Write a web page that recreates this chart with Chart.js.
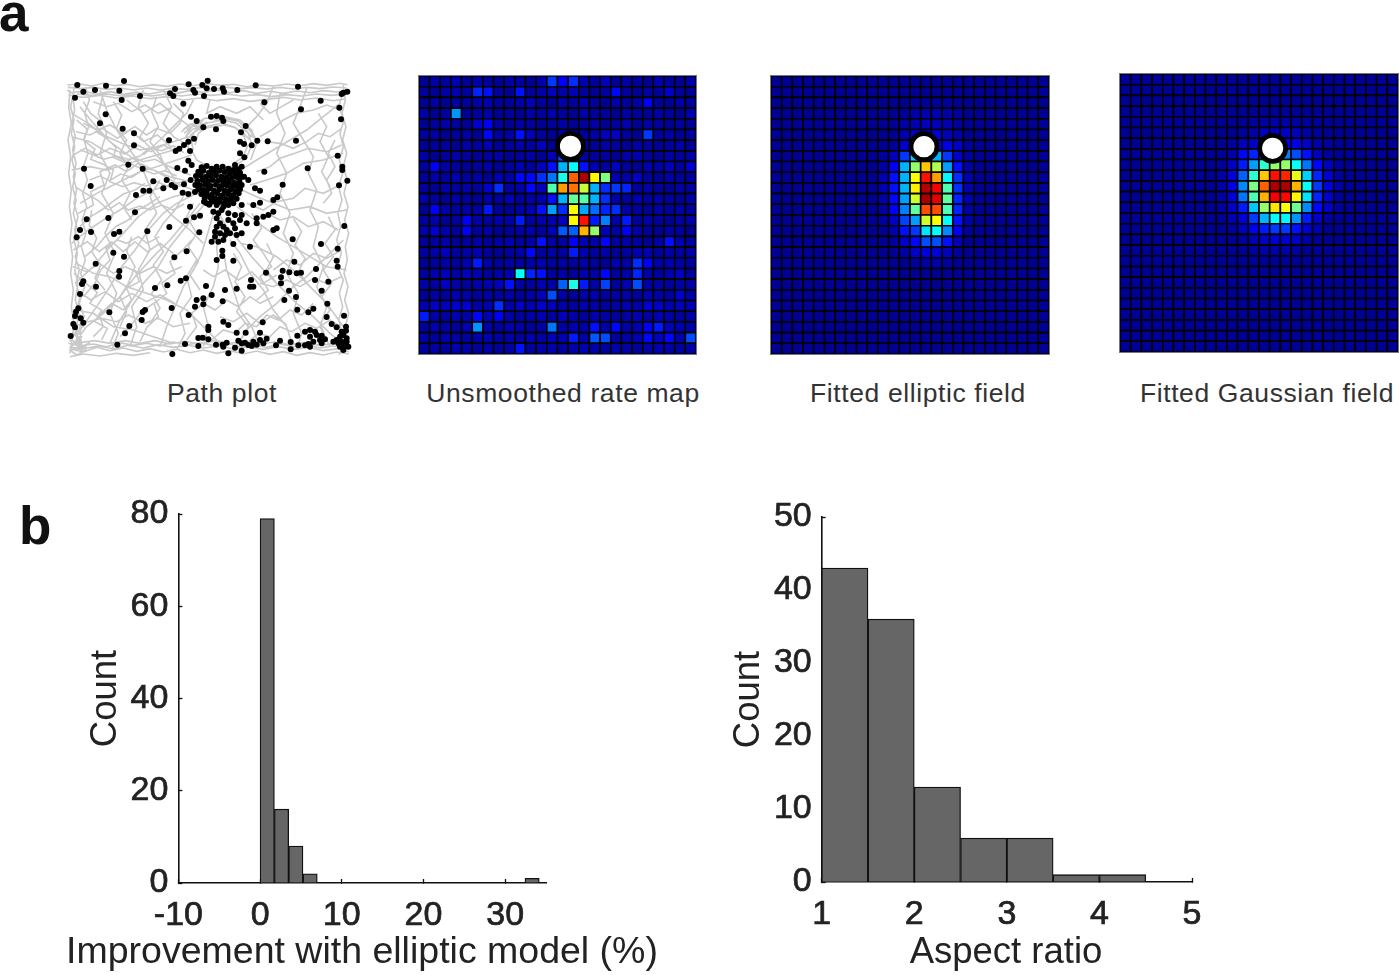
<!DOCTYPE html>
<html><head><meta charset="utf-8">
<script src="https://cdn.jsdelivr.net/npm/chart.js@4/dist/chart.umd.min.js"></script>
<style>
html,body{margin:0;padding:0;background:#fff;overflow:hidden}
body{width:1399px;height:975px;position:relative;font-family:"Liberation Sans",Arial,sans-serif}
canvas{position:absolute}
.cap{position:absolute;top:378px;font-size:26.5px;line-height:30px;color:#333;white-space:nowrap;transform:translateX(-50%);letter-spacing:.6px}
.panel{position:absolute;font-weight:bold;font-size:53px;line-height:60px;color:#111}
.map{box-shadow:0 0 0 1px #777}
</style></head><body>
<div class="panel" style="left:-1px;top:-17px">a</div>
<div class="panel" style="left:19px;top:496px">b</div>
<div class="cap" style="left:222px">Path plot</div>
<div class="cap" style="left:563px">Unsmoothed rate map</div>
<div class="cap" style="left:918px">Fitted elliptic field</div>
<div class="cap" style="left:1267px">Fitted Gaussian field</div>
<canvas id="path" width="295" height="295" style="left:60px;top:70px"></canvas>
<canvas id="rate" class="map" width="277" height="278" style="left:419px;top:76px"></canvas>
<canvas id="ellipse" class="map" width="278" height="278" style="left:771px;top:76px"></canvas>
<canvas id="gauss" class="map" width="278" height="278" style="left:1120px;top:74px"></canvas>
<canvas id="histA" width="604" height="485" style="left:60px;top:490px"></canvas>
<canvas id="histB" width="580" height="485" style="left:716px;top:490px"></canvas>
<script>
// ---------- panel b: histograms ----------
const improvementBins = [0.875, 2.625, 4.375, 6.125, 33.3];
const improvementCounts = [79, 16, 8, 2, 1];
const aspectBins = [1.25, 1.75, 2.25, 2.75, 3.25, 3.75, 4.25];
const aspectCounts = [43, 36, 13, 6, 6, 1, 1];

// ---------- panel a: rate maps (percent of the colour scale) ----------
const rateMap = [
[2,4,3,5,2,4,3,2,4,3,2,5,18,12,17,5,3,6,2,4,3,2,5,3,2,4],
[3,2,4,5,3,16,14,3,2,14,3,4,6,4,5,3,2,3,13,3,2,4,3,8,3,2],
[2,4,2,3,3,4,5,3,3,4,6,3,2,4,3,5,3,2,4,3,4,12,3,2,4,3],
[4,2,3,27,2,3,4,2,3,2,4,3,5,3,2,4,3,3,2,4,3,2,4,3,2,5],
[2,3,4,3,2,8,12,3,2,4,3,2,3,4,2,3,4,2,3,5,2,4,3,2,3,2],
[3,4,2,3,4,2,13,3,4,14,6,3,2,5,4,3,4,6,7,3,2,18,3,4,2,3],
[2,3,3,2,4,3,5,2,3,4,3,6,2,6,5,3,2,4,3,2,4,3,2,3,4,2],
[4,2,3,4,3,2,3,4,2,3,4,2,5,20,12,4,3,3,2,4,5,3,2,4,3,4],
[3,12,4,3,2,3,4,2,3,5,3,6,14,30,38,14,5,3,7,3,2,5,4,6,3,8],
[2,4,3,5,3,4,2,5,4,13,13,17,24,40,78,96,63,50,5,4,7,3,2,4,3,3],
[3,2,4,3,4,3,8,17,3,4,13,6,45,72,76,57,30,17,18,16,3,4,3,2,4,3],
[4,3,2,4,3,2,4,3,6,3,4,5,14,30,47,46,30,17,4,3,5,3,4,3,2,4],
[2,12,4,3,4,3,15,3,2,4,5,14,28,17,62,29,23,16,17,4,3,2,4,3,4,3],
[3,4,2,3,12,4,3,5,4,15,3,4,5,6,63,86,15,25,4,15,3,4,3,2,3,4],
[4,8,5,3,12,3,4,2,3,4,5,3,6,21,22,70,52,5,4,12,4,3,2,4,3,2],
[2,3,4,2,3,4,3,4,5,3,4,14,4,3,12,5,4,13,3,4,3,2,4,14,5,3],
[3,4,6,3,4,5,3,2,3,4,13,3,4,3,15,5,3,4,2,3,5,5,3,4,3,4],
[2,3,4,3,5,15,4,3,4,3,4,5,3,4,3,4,3,2,5,4,17,12,4,5,4,3],
[3,5,6,4,6,5,3,4,5,38,16,14,3,4,3,5,4,13,3,4,16,4,3,5,7,3],
[4,3,7,4,3,4,5,6,14,4,3,5,4,22,40,15,4,19,3,5,20,4,4,3,4,4],
[2,4,3,5,4,3,4,3,4,3,4,6,20,4,3,4,5,3,4,4,3,5,4,3,8,4],
[5,7,6,8,8,4,5,17,4,7,5,8,6,4,3,5,4,3,4,5,4,8,7,5,6,5],
[15,4,3,5,4,13,5,12,4,3,4,5,3,6,4,3,5,4,3,4,5,3,5,4,3,4],
[3,5,4,3,5,27,4,3,5,4,3,4,24,4,5,4,14,4,13,4,5,12,15,6,5,4],
[4,3,5,4,3,4,5,3,4,3,5,4,6,5,15,4,21,20,3,4,5,13,6,13,5,20],
[3,4,3,5,4,3,4,3,4,14,3,4,5,3,4,5,4,3,5,4,3,4,5,4,3,4]
];
const mapFloor = 2;
// [row, first column, values...]
const ellipticRows = [
[2,13,3,3,3,3],
[3,12,3,4,5,5,4,3],
[4,12,4,5,6,6,5,3],
[5,12,5,7,9,8,6,4],
[6,11,3,7,10,12,12,10,7,3],
[7,10,3,6,18,33,35,30,18,7,3],
[8,10,4,12,30,52,68,55,28,14,4],
[9,10,5,14,30,62,86,72,37,17,5],
[10,10,5,14,30,64,95,88,45,17,5],
[11,10,4,13,28,58,96,90,47,16,5],
[12,10,3,12,25,47,80,80,45,16,4],
[13,10,3,7,19,28,58,62,38,14,4],
[14,11,5,14,18,35,38,26,12,3],
[15,11,3,7,13,20,20,14,6],
[16,12,4,7,9,9,6,3],
[17,13,3,4,4,3]
];
const gaussianRows = [
[4,12,3,3,4,4,3,3],
[5,11,3,4,6,7,7,6,4,3],
[6,10,3,6,7,10,12,12,10,7,4,3],
[7,10,4,13,16,22,26,25,20,14,6,3],
[8,9,3,7,15,28,42,52,52,38,24,13,6,3],
[9,9,4,9,22,42,68,86,84,60,33,16,8,3],
[10,9,4,10,26,50,78,96,96,70,38,18,9,4],
[11,9,4,9,24,45,70,88,87,63,35,16,8,3],
[12,9,3,7,15,32,52,65,62,48,26,13,7,3],
[13,10,5,9,18,30,38,37,27,15,7,3],
[14,10,3,6,11,15,18,18,14,8,5],
[15,11,3,5,7,8,8,7,4],
[16,12,3,4,4,4,3]
];
// reward-post marker [column, row]
const rateMarker = [13.72, 6.08];
const ellipticMarker = [13.81, 6.11];
const gaussianMarker = [13.78, 6.45];

// ---------- panel a: path plot (arena position units) ----------
const pathLegs = [
[22,45,60,42,95,48,130,40,165,47,200,43,240,50,280,44,320,49,360,42,400,47,440,41,480,46,520,43,560,50,600,44,640,48,680,42,720,47,760,41,800,46,840,40,862,44],
[864,60,830,66,790,62,750,68,710,63,670,70,630,64,590,70,550,62,510,68,470,60,430,67,390,62,350,70,310,64,270,72,230,66,190,73,150,65,110,72,70,64,35,68,22,60],
[25,75,70,82,120,76,170,84,220,78,270,86,320,80,370,90,420,84,470,92,520,86,570,94,620,88,670,82,720,90,770,84,820,92,858,86],
[24,52,62,56,100,52,140,58,180,54,220,60,260,54,300,60,340,55,380,58,420,53,460,58,500,52,540,56,580,53,620,57,660,52,700,57,740,52,780,56,820,51,860,54],
[860,72,815,76,770,72,725,78,680,74,635,80,590,74,545,78,500,72,455,76,410,72,365,78,320,72,275,78,230,72,185,78,140,72,95,76,50,72],
[25,820,60,828,100,822,140,830,180,818,220,826,260,820,300,828,340,816,380,824,420,818,460,826,500,820,540,830,580,824,620,832,660,822,700,830,740,824,780,834,820,828,866,838],
[866,852,830,846,790,855,750,848,710,856,670,845,630,853,590,843,550,852,510,842,470,850,430,840,390,848,350,838,310,846,270,836,230,844,190,834,150,842,110,832,70,846,35,838],
[30,860,70,852,120,858,170,850,220,856,270,848],
[28,832,70,836,115,828,160,836,205,826,250,834,295,824,340,832,385,826,430,834,475,828,520,836,565,830,610,838,655,830,700,838,745,832,790,842,835,836,866,846],
[866,826,825,820,780,826,735,818,690,824,645,816,600,822,555,814,510,820,465,812,420,822,375,814,330,822,285,812,240,820,195,812,150,820,105,812,60,818,28,810],
[45,40,38,80,44,120,36,160,46,200,38,240,48,280,40,320,50,360,42,400,54,440,44,480,56,520,46,560,58,600,48,640,60,680,50,720,62,760,52,800,64,850],
[68,845,60,790,72,740,58,700,74,650,62,610,76,570,64,530,78,490,66,450,80,410,68,370,82,330,70,290,84,250,72,210,86,170,74,130,88,90,76,50],
[30,60,26,110,34,160,24,210,32,260,26,310,34,360,28,410,36,460,30,510,38,560,32,610,40,660,34,710,42,760,36,810,30,850],
[54,840,48,780,56,730,46,690,54,640,44,600,52,550,42,510,50,470,40,430,48,390,38,350,46,310,36,270,44,230,34,190,42,150,32,110,40,70],
[850,45,856,90,846,130,858,170,848,210,860,250,850,290,862,330,852,370,864,410,854,450,866,490,856,530,862,570,852,610,864,650,854,690,866,730,856,770,862,820],
[840,840,846,790,836,750,848,710,838,670,850,630,832,590,844,550,830,510,842,470,834,430,846,390,836,350,848,310,838,270,850,230,840,190,852,150,836,110,848,70],
[400,240,392,205,410,175,445,158,490,150,530,160,565,190,575,225,560,262,530,285,490,295,445,290,410,270,395,240],
[405,225,415,190,445,168,485,160,525,172,552,198,562,230,548,262,520,280],
[385,235,380,195,398,165,435,145,490,140,540,150,575,180,590,220,572,270],
[418,180,450,172,495,165,530,175,556,205],
[372,190,395,170,420,160,430,150],
[376,200,398,178,422,166,442,156],
[370,178,392,162,418,172,400,190,382,206],
[364,186,386,166,412,156,434,164,410,180,390,196],
[380,176,402,168,426,172,408,184],
[460,150,500,146,535,154,560,172],
[540,160,560,172,578,192,566,206,548,186],
[552,166,572,182,586,204,570,196,556,178],
[60,110,100,160,150,215,190,245,240,280,300,310,350,340,400,360,450,380],
[35,200,90,215,130,240,180,265,230,290,280,300,330,320,390,335],
[120,60,140,120,170,180,210,240,245,290,270,350,300,400,340,440,390,480,430,520],
[250,60,235,110,265,160,240,200,285,250,320,290,345,330],
[60,400,110,370,150,350,190,330,240,305,290,290,350,270,395,255],
[35,520,85,480,130,450,180,420,230,385,280,360,330,345,390,330],
[45,640,100,590,150,530,190,490,235,440,290,400,340,380,400,365],
[60,780,110,710,150,650,185,590,225,540,265,480,310,430,350,400,410,370],
[35,830,80,770,130,730,180,680,225,620,280,560,330,510,380,450,420,400],
[150,820,175,760,210,700,250,640,295,590,330,530,370,480,410,430,445,390],
[300,830,320,770,345,710,370,650,400,600,425,550,440,500,455,450,470,400],
[430,830,445,770,430,710,460,650,475,590,470,530,485,480],
[860,830,810,790,760,740,710,700,660,650,620,610,575,560,535,510,500,470,470,420],
[700,835,680,770,640,720,610,660,570,610,540,550,510,510],
[600,830,575,770,540,720,520,660,500,600,490,540],
[860,600,800,590,750,560,700,530,650,500,610,470,570,440,530,410],
[860,420,800,430,750,410,690,420,640,400,590,380,545,360],
[850,250,790,270,730,280,680,310,620,330,570,345],
[840,100,790,140,740,180,690,210,640,240,590,270,550,295],
[640,50,620,100,590,140,560,170],
[740,55,720,110,700,160,730,210,760,260,745,310,770,360,750,420,775,470,760,530,790,590,770,650,800,710,780,770,810,830],
[660,70,650,130,675,190,650,250,680,310,660,370,690,430,670,490,700,550,680,610,715,670,700,730,725,790,710,840],
[130,70,115,130,140,190,120,250,150,310,125,370,160,430,135,490,165,550,140,610,170,670,150,730,175,790,155,840],
[310,60,335,110,310,160,340,200,375,220],
[210,830,230,770,215,710,250,660,235,600,270,540,255,480,290,430,270,380,300,330],
[350,840,375,790,360,730,395,680,380,620,410,570],
[35,300,90,290,140,300,190,285,240,270,290,255,340,240,385,225],
[35,130,85,160,130,195,185,220,240,240,290,230,340,215,385,200],
[520,840,560,780,600,740,650,700,700,650,740,620,800,560,850,510],
[540,520,590,530,650,560,700,600,750,650,800,700,850,770],
[50,580,100,610,150,620,200,650,260,670,320,690,380,720,430,770,480,820],
[45,720,100,730,160,770,220,780,280,800,340,820],
[450,90,440,130,480,110,530,130,570,110,610,150],
[200,90,250,130,300,100,350,140,390,170],
[400,90,380,130,340,170,300,210,250,255],
[40,790,60,810,50,840,75,830,40,820,65,800,50,780,30,815],
[830,800,850,840,860,810,840,850,870,830],
[70,95,92,130,118,150,108,185,140,205,168,232,160,262,195,278,222,262,250,275,285,268,318,285,352,300,392,315],
[50,150,82,178,70,210,105,238,92,268,128,282,160,300,150,335,188,350,222,338,258,348,290,335,330,352,372,345],
[60,240,95,252,130,268,168,258,205,268,240,258,270,232,305,242,340,228,372,248],
[88,330,120,318,148,332,182,312,215,322,248,300,282,312,315,302,350,318],
[45,350,80,372,115,392,145,420,178,398,205,420,240,408,270,420,305,405,340,420,372,402],
[60,470,92,440,125,420,158,395,190,372,225,360,255,340],
[75,560,110,530,135,500,170,468,205,450,232,420,262,405,300,380],
[42,610,78,640,112,668,90,700,125,720,105,755,142,775,125,810],
[70,680,105,640,122,600,150,570,138,535,172,510,200,520,235,500,262,520,298,500],
[100,800,130,770,118,735,155,700,190,720,215,690,200,655,238,635,225,600],
[240,815,262,770,295,740,282,700,320,670,305,640,345,610,330,575,368,540,395,510],
[280,700,240,730,210,770,180,800],
[380,810,410,770,395,730,430,700,465,720,500,690,535,710,570,680,600,700,640,680],
[455,810,490,780,525,790,555,760,590,770,620,735,655,750,690,720,725,735,760,700],
[560,820,595,790,630,800,660,770,695,785,735,760,770,775,810,750,840,770],
[640,600,680,570,720,585,760,550,800,565,845,540],
[600,640,640,650,680,630,720,650,760,625,800,640,845,620],
[590,690,625,660,600,620,635,590,610,550,580,510,605,475,575,430],
[800,810,780,760,810,720,785,680,815,640,790,600,820,560,795,520,825,480,805,440],
[620,430,660,450,700,440,745,470,790,455,835,480],
[560,400,610,420,650,395,700,385,735,355,790,370,840,345],
[590,305,630,290,660,265,705,250,745,235,800,245,845,225],
[600,200,635,180,670,150,710,130,760,120,800,105,845,120],
[600,100,630,130,665,110,700,90],
[620,215,660,220,700,235,740,215,775,190,810,200,845,175],
[775,130,800,170,780,215,805,260,785,305,810,350],
[340,100,370,130,360,160,330,190,290,175,260,195,225,170,190,190,150,165,110,180,70,160],
[100,95,140,110,175,100,215,125,255,105,295,130,330,115],
[160,95,185,135,170,175,200,210,180,250,205,290,185,330,210,370,190,410,215,450],
[290,80,275,125,295,170,270,215,300,255,320,300],
[370,380,345,420,310,460,285,500,310,545,280,585,305,630,275,670,300,715,270,760],
[400,400,380,440,410,490,385,530,415,575,390,615,420,660],
[520,550,545,590,525,635,555,680,530,725,565,770,540,815],
[620,520,640,560,620,600,650,640],
[30,800,55,790,45,760,70,770,60,735,38,745,50,710],
[32,825,58,815,78,840,50,855,30,840,60,832,90,818],
[40,255,75,235,112,255,150,235,195,252,232,225,272,245,312,225,352,248],
[48,185,90,195,128,175,172,205,210,180,250,215,292,195,335,232],
[55,430,100,405,92,365,132,345,120,305,165,285,200,305,235,280,262,305],
[40,540,82,515,118,545,155,515,190,545,225,515,262,545,300,520,340,550],
[38,590,80,605,118,580,160,610,195,590,240,610,280,590,320,610,365,590],
[50,660,92,690,135,665,175,695,215,670,260,695,300,675,345,700],
[42,745,85,755,125,745,170,755,205,735,255,760,295,745,340,770,390,760],
[95,420,88,465,110,505,95,545,122,585,105,625,135,660],
[215,500,200,545,225,590,205,640,180,680,200,725,180,770],
[430,600,460,620,495,600,535,630,575,605,610,640,650,615],
[480,740,520,755,560,730,600,760,640,735,680,765],
[700,445,725,485,705,525,735,565,715,605,745,645],
[790,400,815,370,800,330,825,290,805,250,825,210]
];
const spikePoints = [
52,45,70,65,45,83,105,60,138,47,178,62,192,33,185,90,240,78,137,133,120,160,188,176,222,190,222,226,345,57,330,70,340,78,386,43,400,60,405,68,427,45,443,32,440,55,462,57,488,55,492,65,432,78,532,60,587,46,714,50,850,68,862,65,845,72,613,97,782,92,723,118,370,101,838,113,843,148,393,140,410,153,453,140,470,138,486,143,490,153,430,172,468,178,557,168,543,187,327,211,402,206,385,215,372,225,358,236,347,243,390,243,540,215,552,222,575,226,592,212,623,214,708,212,540,250,553,262,833,257,847,290,847,300,743,295,72,296,205,284,248,296,352,294,613,305,385,272,395,285,375,302,280,334,320,330,335,345,345,352,372,343,392,330,92,348,250,362,268,362,310,355,228,375,368,368,385,372,837,346,862,332,668,344,225,427,145,444,80,448,60,480,93,486,50,502,162,492,178,485,262,484,328,471,390,410,378,452,402,442,420,437,418,487,853,468,698,508,783,522,833,536,160,548,192,560,343,562,380,544,570,530,487,542,487,558,470,570,520,572,703,575,830,572,833,590,107,581,178,603,177,620,618,608,668,602,663,622,688,607,710,610,723,608,768,597,765,630,805,635,378,625,362,632,285,654,322,646,70,634,66,642,60,672,108,650,438,648,573,630,570,650,580,650,663,640,495,660,530,656,687,662,785,662,455,675,410,690,430,685,430,703,405,710,488,694,708,681,673,690,802,701,335,714,255,720,248,726,148,727,712,719,760,716,745,727,386,735,245,750,55,715,48,725,45,738,62,745,70,758,40,762,45,772,32,798,208,768,195,790,490,755,505,765,445,770,445,780,608,757,800,741,852,737,815,762,830,772,858,770,858,782,
172,824,375,822,415,804,428,803,445,808,415,828,468,824,488,824,500,818,490,830,525,833,505,850,337,852,530,788,557,788,535,812,545,820,555,818,565,825,580,815,590,824,600,810,620,806,600,788,575,828,610,820,545,842,660,812,648,826,692,816,712,797,692,838,715,826,735,826,745,822,735,785,750,780,765,785,750,800,770,795,785,797,795,808,780,810,760,815,750,830,785,820,820,815,830,810,840,800,850,795,860,805,845,815,855,825,840,830,850,840,865,830,835,820,860,815,845,785,
440,400,455,395,470,405,490,410,505,405,520,400,545,405,580,405,600,398,640,390,652,382,600,362,585,355,565,330,552,320,545,290,525,285,460,425,475,430,485,420,505,430,525,435,545,435,560,460,590,460,590,445,610,440,625,435,640,425,640,480,650,475,470,445,480,460,470,470,490,470,505,450,520,460,525,475,540,450,545,490,530,495,510,490,495,495,480,490,465,500,455,515,475,515,490,510,520,522,500,480,465,485,
425,292,440,288,455,296,470,290,488,290,505,296,520,300,535,298,415,305,430,302,447,308,462,304,478,302,494,306,510,310,526,312,540,308,408,318,422,316,438,320,452,318,468,316,484,320,500,322,516,324,532,322,546,320,412,332,428,330,444,334,458,330,474,332,490,334,506,336,522,338,538,334,406,345,420,346,436,344,452,348,468,344,484,348,500,346,516,350,530,348,545,345,415,358,430,360,446,356,462,362,478,358,494,362,510,360,526,364,540,358,405,366,424,372,440,370,456,374,472,370,488,376,504,372,520,376,536,370,434,384,450,382,466,386,482,384,498,388,514,384,530,386,432,395,448,404,462,392,478,396,494,398,512,392
];

// ---------- helpers ----------
function jet(pct){
  const v = pct/100;
  const band = c => Math.round(255*Math.max(0,Math.min(1,1.5-Math.abs(4*v-c))));
  return `rgb(${band(3)},${band(2)},${band(1)})`;
}
function gridFromRows(rows,floor){
  const m = Array.from({length:26},()=>Array(26).fill(floor));
  rows.forEach(r=>{const [row,col,...vals]=r; vals.forEach((v,i)=>{m[row][col+i]=v;});});
  return m;
}
function heatChart(id,matrix,marker){
  const pts=[],cols=[];
  matrix.forEach((row,r)=>row.forEach((v,c)=>{pts.push({x:c,y:r});cols.push(jet(v));}));
  new Chart(document.getElementById(id),{
    type:'scatter',
    data:{datasets:[
      {data:[{x:marker[0],y:marker[1]}],order:0,pointRadius:13,pointBorderWidth:4.8,pointBackgroundColor:'#fff',pointBorderColor:'#000'},
      {data:pts,order:1,pointStyle:'rect',pointRadius:7.55,pointBorderWidth:1.6,pointBackgroundColor:cols,pointBorderColor:'#000'}
    ]},
    options:{responsive:false,animation:false,devicePixelRatio:1,events:[],
      layout:{padding:0,autoPadding:false},
      plugins:{legend:{display:false},tooltip:{enabled:false},title:{display:false}},
      scales:{x:{display:false,min:-0.5,max:25.5},y:{display:false,min:-0.5,max:25.5,reverse:true}}}
  });
}
heatChart('rate',rateMap,rateMarker);
heatChart('ellipse',gridFromRows(ellipticRows,mapFloor),ellipticMarker);
heatChart('gauss',gridFromRows(gaussianRows,mapFloor),gaussianMarker);

// path plot
const pathData=[];
pathLegs.forEach(leg=>{for(let i=0;i<leg.length-1;i+=2)pathData.push({x:leg[i],y:leg[i+1]});pathData.push({x:null,y:null});});
const spikeData=[];
for(let i=0;i<spikePoints.length;i+=2)spikeData.push({x:spikePoints[i],y:spikePoints[i+1]});
new Chart(document.getElementById('path'),{
  type:'scatter',
  data:{datasets:[
    {data:spikeData,order:0,pointRadius:3,pointBackgroundColor:'#000',pointBorderWidth:0},
    {data:pathData,order:1,showLine:true,spanGaps:false,pointRadius:0,borderColor:'#c9c9c9',borderWidth:1.6,tension:0}
  ]},
  options:{responsive:false,animation:false,devicePixelRatio:1,events:[],
    layout:{padding:0,autoPadding:false},
    plugins:{legend:{display:false},tooltip:{enabled:false}},
    scales:{x:{display:false,min:0,max:885},y:{display:false,min:0,max:885,reverse:true}}}
});

// histograms
function histChart(id,bins,counts,cfg){
  const family='"Liberation Sans",Arial,sans-serif';
  const font={family,size:34};
  new Chart(document.getElementById(id),{
    type:'bar',
    data:{datasets:[{data:bins.map((b,i)=>({x:b,y:counts[i]})),backgroundColor:'#666',borderColor:'#111',borderWidth:1.3,barPercentage:1,categoryPercentage:1}]},
    options:{responsive:false,animation:false,devicePixelRatio:1,events:[],
      layout:{padding:cfg.padding,autoPadding:false},
      plugins:{legend:{display:false},tooltip:{enabled:false},
        title:{display:true,position:'bottom',text:cfg.xTitle,font:{family,size:cfg.titleSize,weight:'normal'},color:'#222',padding:0}},
      scales:{
        x:{type:'linear',offset:false,min:cfg.xMin,max:cfg.xMax,afterFit:s=>{s.height=cfg.xHeight;s.paddingLeft=0;s.paddingRight=0;},
          grid:{drawOnChartArea:false,offset:false,tickLength:-4,tickColor:'#111',tickWidth:1.3},
          border:{color:'#111',width:1.6},
          ticks:{stepSize:cfg.xStep,includeBounds:false,autoSkip:false,maxRotation:0,font,color:'#222',padding:16,textStrokeColor:'#222',textStrokeWidth:0.7},
          title:{display:false}},
        y:{min:0,max:cfg.yMax,afterFit:s=>{s.width=cfg.yWidth;s.paddingTop=0;s.paddingBottom=0;},
          grid:{drawOnChartArea:false,tickLength:-4,tickColor:'#111',tickWidth:1.3},
          border:{color:'#111',width:1.6},
          ticks:{stepSize:cfg.yStep,font,color:'#222',padding:14,textStrokeColor:'#222',textStrokeWidth:0.7},
          title:{display:true,text:'Count',font:{family,size:36.5},color:'#222',padding:{top:cfg.countGap,bottom:0}}},
        spacer:{position:'right',afterFit:s=>{s.width=cfg.spacer;s.paddingTop=0;s.paddingBottom=0;},grid:{display:false},border:{display:false},ticks:{display:false}}
      }}
  });
}
histChart('histA',improvementBins,improvementCounts,{xMin:-10,xMax:35,xStep:10,yMax:80,yStep:20,countGap:24,
  xTitle:'Improvement with elliptic model (%)',titleSize:37.5,xHeight:47,yWidth:118.4,spacer:118,padding:{left:0,right:0,top:24,bottom:0}});
histChart('histB',aspectBins,aspectCounts,{xMin:1,xMax:5,xStep:1,yMax:50,yStep:10,countGap:0,
  xTitle:'Aspect ratio',titleSize:36.5,xHeight:49.2,yWidth:94.7,spacer:93,padding:{left:11,right:11,top:27,bottom:0}});
</script>
</body></html>
